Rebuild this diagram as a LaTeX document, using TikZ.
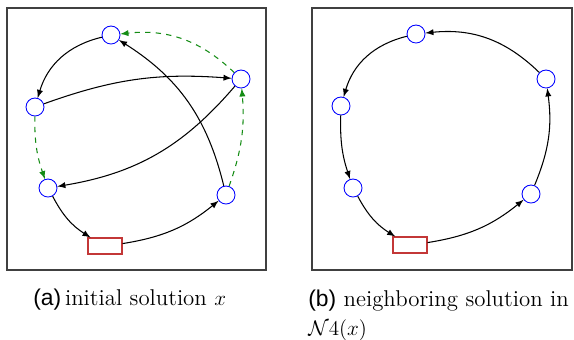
\documentclass[tikz,border=0pt]{standalone}
\usepackage{fontspec}
\newfontfamily\labfont{Liberation Sans}
\definecolor{depotred}{RGB}{195,55,55}
\definecolor{movegreen}{RGB}{20,140,20}
\begin{document}
\begin{tikzpicture}[x=0.02cm, y=0.02cm, >=latex,
  every node/.style={font=\fontsize{13}{16}\selectfont},
  city/.style={circle, draw=blue, line width=0.5pt, minimum size=0.36cm, inner sep=0pt},
  depot/.style={rectangle, draw=depotred, line width=0.6pt, minimum width=0.68cm, minimum height=0.32cm, inner sep=0pt},
  arc/.style={->, line width=0.6pt},
  moved/.style={->, dashed, line width=0.6pt, movegreen},
  frame/.style={draw=black!75, line width=0.8pt}]
\useasboundingbox (0,0) rectangle (574,-339);
\draw[frame] (7,-8) rectangle (266,-270);
\draw[frame] (312,-8) rectangle (572,-270);
\node[city] (a1) at (111,-35) {};
\node[city] (a2) at (241,-79) {};
\node[city] (a3) at (35,-107) {};
\node[city] (a4) at (48,-188) {};
\node[city] (a5) at (226,-195) {};
\node[depot] (a0) at (105,-246) {};
\draw[arc] (a1) to[bend right=30] (a3);
\draw[arc] (a3) to[bend left=12] (a2);
\draw[arc] (a2) to[bend left=20] (a4);
\draw[arc] (a4) to[bend right=15] (a0);
\draw[arc] (a0) to[bend right=15] (a5);
\draw[arc] (a5) to[bend right=22] (a1);
\draw[moved] (a2) to[bend right=25] (a1);
\draw[moved] (a3) to[bend right=10] (a4);
\draw[moved] (a5) to[bend right=12] (a2);
\node[city] (b1) at (416,-34) {};
\node[city] (b2) at (546,-79) {};
\node[city] (b3) at (341,-106) {};
\node[city] (b4) at (353,-188) {};
\node[city] (b5) at (531,-194) {};
\node[depot] (b0) at (410,-245) {};
\draw[arc] (b1) to[bend right=30] (b3);
\draw[arc] (b3) to[bend right=10] (b4);
\draw[arc] (b4) to[bend right=15] (b0);
\draw[arc] (b0) to[bend right=15] (b5);
\draw[arc] (b5) to[bend right=15] (b2);
\draw[arc] (b2) to[bend right=25] (b1);
\node[anchor=base west, inner sep=0pt] (capa) at (33,-305) {{\labfont (a)}\,initial solution $x$};
\node[anchor=north west, align=left, inner sep=0pt] (capb) at (308,-290) {{\labfont (b)} neighboring solution in\\$\mathcal{N}4(x)$};
\end{tikzpicture}
\end{document}
